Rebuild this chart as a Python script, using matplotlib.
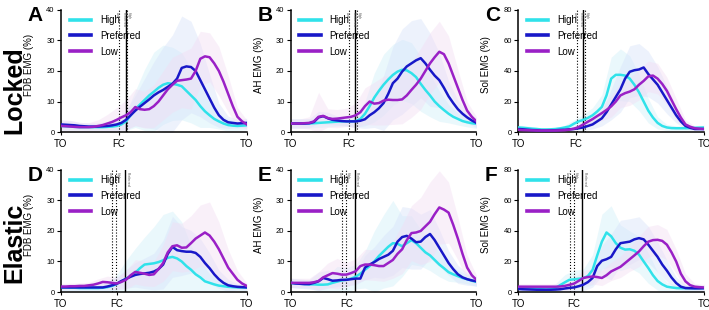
import numpy as np
import matplotlib
matplotlib.use("Agg")
import matplotlib.pyplot as plt

plt.rcParams["font.family"] = ["Liberation Sans", "DejaVu Sans"]

# % of stride, TO -> TO
x_pct = np.arange(0, 100.1, 2.5)
x_band = np.arange(0, 100.1, 5)

conditions = ["High", "Preferred", "Low"]
colori = ["#30e2ea", "#1818c8", "#9a20c6"]
colori_banda = ["#cfeff8", "#d6e2fa", "#f3dcf3"]

# Locked - mean EMG
a_high = [2.0, 1.9, 1.8, 1.7, 1.6, 1.6, 1.6, 1.6, 1.6, 1.6,
          1.7, 1.8, 2.0, 2.5, 3.5, 5.5, 7.5, 9.0, 10.5, 12.0,
          13.2, 14.5, 15.5, 16.0, 15.8, 15.5, 15.0, 13.5, 12.0, 10.5,
          8.5, 6.8, 5.5, 4.3, 3.5, 2.8, 2.3, 2.1, 2.0, 2.1, 2.2]
a_pref = [2.5, 2.4, 2.3, 2.2, 2.0, 1.9, 1.8, 1.8, 1.8, 1.9,
          2.0, 2.2, 2.5, 3.0, 4.0, 5.5, 7.0, 8.3, 9.5, 10.7,
          12.0, 13.0, 13.8, 14.8, 15.8, 17.5, 21.0, 21.5, 21.3, 20.0,
          17.0, 14.0, 11.0, 8.0, 5.5, 4.0, 3.2, 3.0, 2.8, 2.9, 3.0]
a_low = [2.0, 1.9, 1.8, 1.7, 1.6, 1.6, 1.6, 1.7, 2.0, 2.3,
         2.8, 3.3, 4.0, 4.8, 5.5, 6.5, 8.2, 7.5, 7.3, 7.5,
         8.5, 10.0, 12.0, 14.0, 15.5, 16.8, 17.0, 17.2, 17.5, 20.0,
         24.0, 24.8, 24.5, 22.5, 20.0, 16.5, 12.5, 8.5, 5.0, 3.5, 2.5]

b_high = [2.8, 2.8, 2.8, 2.8, 2.8, 2.9, 3.0, 3.1, 3.2, 3.3,
          3.4, 3.5, 3.5, 3.5, 3.6, 4.3, 6.0, 8.5, 11.3, 13.5,
          15.5, 17.2, 18.7, 19.8, 20.4, 20.2, 19.3, 18.0, 15.8, 13.8,
          12.0, 10.0, 8.5, 7.2, 6.0, 5.0, 4.3, 3.6, 3.2, 2.9, 2.7]
b_pref = [2.8, 2.8, 2.8, 2.8, 2.9, 3.3, 4.8, 5.2, 4.5, 4.0,
          3.8, 3.6, 3.5, 3.5, 3.5, 3.7, 4.2, 5.5, 6.5, 7.8,
          9.5, 12.5, 16.0, 17.5, 19.8, 21.5, 22.5, 23.5, 24.2, 22.5,
          20.4, 18.5, 17.0, 14.5, 11.7, 9.5, 7.5, 6.0, 4.8, 3.8, 3.0]
b_low = [2.8, 2.8, 2.8, 2.9, 3.0, 3.5, 5.0, 5.3, 4.6, 4.3,
         4.4, 4.6, 4.8, 5.0, 5.5, 6.5, 8.5, 10.0, 9.3, 9.5,
         10.3, 10.6, 10.5, 10.5, 10.7, 12.0, 13.8, 15.5, 17.5, 20.0,
         22.5, 24.5, 26.3, 25.5, 22.5, 18.5, 14.5, 10.5, 7.0, 5.0, 3.5]

c_high = [3.0, 2.8, 2.5, 2.2, 2.0, 1.7, 1.7, 1.8, 2.0, 2.4,
          3.0, 3.7, 5.5, 7.0, 8.0, 9.3, 11.0, 13.5, 16.5, 24.0,
          35.0, 37.5, 37.5, 37.0, 35.0, 31.0, 26.0, 20.0, 14.0, 9.5,
          6.0, 4.0, 3.0, 2.6, 2.5, 2.5, 2.5, 2.6, 2.8, 2.9, 3.0]
c_pref = [2.0, 1.8, 1.5, 1.3, 1.2, 1.0, 1.0, 1.1, 1.2, 1.4,
          1.5, 1.8, 2.0, 2.5, 3.0, 4.0, 5.0, 7.0, 9.0, 13.0,
          18.0, 23.0, 28.0, 35.0, 39.5, 40.5, 41.0, 42.3, 38.0, 34.5,
          31.0, 26.0, 21.0, 16.0, 11.0, 7.0, 4.0, 2.8, 2.0, 2.0, 2.0]
c_low = [1.5, 1.3, 1.2, 1.1, 1.0, 1.0, 1.0, 1.0, 1.0, 1.1,
         1.2, 1.6, 2.2, 3.3, 5.0, 6.8, 8.5, 10.5, 12.4, 14.5,
         16.8, 20.0, 24.0, 25.5, 26.5, 28.0, 31.0, 33.5, 36.5, 37.0,
         35.0, 31.5, 27.0, 21.0, 15.0, 9.5, 5.0, 3.5, 2.5, 2.2, 2.0]

# Elastic - mean EMG
d_high = [1.5, 1.5, 1.4, 1.4, 1.3, 1.3, 1.3, 1.3, 1.3, 1.4,
          1.6, 2.0, 2.6, 3.5, 4.3, 5.3, 6.3, 7.8, 9.0, 9.2,
          9.4, 9.8, 10.4, 11.2, 11.5, 11.0, 10.0, 8.5, 7.3, 5.8,
          4.8, 3.5, 3.0, 2.5, 2.1, 1.9, 1.7, 1.6, 1.5, 1.5, 1.5]
d_pref = [1.5, 1.5, 1.5, 1.5, 1.5, 1.5, 1.5, 1.5, 1.5, 1.5,
          1.8, 2.2, 2.7, 3.6, 4.3, 5.0, 5.6, 5.9, 6.1, 6.3,
          6.7, 7.5, 9.0, 12.5, 14.8, 13.7, 13.4, 13.2, 13.2, 12.8,
          11.5, 9.5, 7.8, 5.8, 4.2, 3.0, 2.2, 1.9, 1.7, 1.6, 1.5]
d_low = [1.8, 1.8, 1.9, 1.9, 2.0, 2.0, 2.2, 2.4, 2.8, 3.3,
         3.2, 3.0, 2.8, 3.3, 4.0, 5.5, 6.6, 6.3, 6.0, 5.6,
         5.8, 7.5, 9.5, 13.0, 15.0, 15.3, 14.5, 14.6, 16.0, 17.5,
         18.5, 19.5, 18.5, 16.5, 14.0, 11.0, 8.0, 6.0, 4.0, 2.8, 2.0]

e_high = [3.0, 2.8, 2.7, 2.6, 2.5, 2.5, 2.4, 2.4, 2.5, 3.0,
          3.4, 3.8, 4.0, 4.4, 5.0, 6.0, 7.3, 8.5, 10.0, 11.8,
          13.3, 14.8, 16.0, 15.8, 15.0, 16.0, 17.0, 16.0, 14.5, 13.0,
          12.0, 10.5, 9.0, 7.8, 6.5, 5.8, 5.2, 4.6, 4.2, 3.7, 3.3]
e_pref = [3.0, 2.8, 2.7, 2.6, 2.6, 3.0, 3.5, 4.6, 4.2, 3.7,
          3.8, 4.0, 4.0, 4.2, 4.4, 4.4, 8.0, 9.0, 9.8, 10.8,
          11.5, 12.2, 13.5, 16.5, 18.0, 18.4, 17.5, 16.3, 16.5, 18.0,
          19.0, 17.0, 14.5, 12.0, 9.5, 7.5, 5.8, 4.8, 4.2, 3.8, 3.5]
e_low = [3.0, 3.0, 3.0, 3.0, 3.0, 3.2, 3.6, 4.8, 5.5, 6.2,
         6.0, 5.7, 5.7, 6.2, 6.8, 8.5, 9.0, 9.0, 8.8, 8.5,
         8.5, 9.5, 10.5, 12.5, 14.0, 17.0, 19.3, 19.5, 20.0, 21.5,
         23.0, 25.5, 27.7, 27.0, 26.0, 22.0, 17.5, 12.5, 8.0, 5.5, 4.0]

f_high = [3.0, 2.8, 2.5, 2.2, 2.0, 1.8, 1.6, 1.8, 2.5, 4.5,
          6.3, 8.0, 8.3, 8.7, 9.0, 10.5, 14.5, 24.0, 33.0, 39.0,
          36.5, 32.0, 29.0, 27.8, 28.0, 27.0, 24.5, 20.0, 15.7, 11.0,
          7.2, 5.0, 3.5, 3.0, 2.6, 2.5, 2.5, 2.5, 2.5, 2.5, 2.5]
f_pref = [2.0, 1.8, 1.7, 1.6, 1.5, 1.5, 1.5, 1.5, 1.6, 1.8,
          2.3, 2.7, 3.0, 3.8, 4.8, 6.5, 9.2, 17.0, 20.5, 21.5,
          23.0, 28.0, 32.0, 32.5, 33.0, 34.5, 35.3, 34.5, 31.0, 27.0,
          23.0, 18.0, 14.0, 9.5, 5.9, 3.5, 2.6, 2.5, 2.4, 2.4, 2.5]
f_low = [3.5, 3.5, 3.5, 3.5, 3.5, 3.5, 3.5, 3.5, 3.5, 3.6,
         4.0, 4.7, 5.5, 7.3, 9.2, 9.8, 10.2, 9.8, 9.2, 11.0,
         13.5, 15.0, 16.5, 19.0, 21.5, 24.0, 26.6, 30.0, 33.0, 34.0,
         34.2, 33.5, 31.0, 26.0, 20.0, 12.0, 7.0, 4.5, 3.5, 3.2, 3.0]

# standard deviations (every 5%)
a_high_sd = [1.5, 1.5, 1.2, 1.2, 1.2, 1.5, 2, 3, 6, 10, 13, 13, 12, 11, 9, 7, 4, 2.5, 2, 1.5, 1.5]
a_pref_sd = [1.5, 1.5, 1.2, 1.2, 1.2, 1.5, 2, 3, 5, 8, 11, 14, 16, 17, 15, 12, 8, 4, 2, 1.5, 1.5]
a_low_sd = [2, 2, 1.5, 1.5, 2, 3, 4, 5, 6, 6, 7, 8, 9, 9, 10, 9, 8, 8, 6, 3, 1.5]
b_high_sd = [1.5, 1.5, 1.5, 1.5, 1.5, 1.5, 1.5, 2, 4, 8, 10, 10, 10, 10, 9, 7, 5, 3, 2, 1.5, 1.5]
b_pref_sd = [1.5, 1.5, 1.5, 2, 2, 1.5, 1.5, 2, 3, 5, 9, 12, 14, 14, 13, 12, 9, 5, 3, 2, 1.5]
b_low_sd = [1.5, 1.5, 2, 8, 3, 3, 3, 4, 6, 7, 8, 8, 8, 9, 10, 10, 10, 9, 6, 3, 1.5]
c_high_sd = [1.5, 1.5, 1, 1, 1, 1.5, 2.5, 3.5, 5, 8, 14, 17, 15, 12, 8, 4, 2, 1.5, 1.5, 1.5, 1.5]
c_pref_sd = [1, 1, 1, 1, 1, 1, 1.5, 2, 3, 5, 10, 15, 17, 17, 15, 12, 9, 5, 2, 1, 1]
c_low_sd = [1, 1, 1, 1, 1, 1, 1.5, 2, 3, 5, 7, 8, 9, 10, 10, 10, 9, 7, 3, 1.5, 1]
d_high_sd = [1, 1, 1, 1, 1, 1.5, 3, 6, 8, 9, 12, 15, 15, 13, 8, 5, 3, 2, 1.5, 1, 1]
d_pref_sd = [1, 1, 1, 1, 1, 1.5, 2, 3, 4, 5, 6, 8, 10, 8, 7, 6, 5, 3, 2, 1, 1]
d_low_sd = [1, 1, 1, 1, 1.5, 2, 2, 3, 4, 4, 4, 6, 8, 8, 9, 10, 11, 9, 6, 3, 1]
e_high_sd = [1.5, 1.5, 1.5, 2, 3, 5, 4, 4, 6, 10, 12, 14, 10, 8, 6, 5, 4, 3, 2, 1.5, 1.5]
e_pref_sd = [1.5, 1.5, 1.5, 3, 3, 2, 2, 2, 4, 5, 7, 8, 10, 10, 9, 8, 6, 4, 3, 2, 1.5]
e_low_sd = [1.5, 1.5, 1.5, 3, 4, 5, 4, 4, 5, 5, 5, 6, 8, 9, 11, 13, 12, 10, 7, 4, 1.5]
f_high_sd = [2, 2, 2, 2, 3, 5, 6, 6, 10, 18, 20, 15, 12, 12, 10, 6, 3, 2, 2, 2, 2]
f_pref_sd = [2, 2, 2, 2, 2, 2, 3, 4, 6, 10, 15, 15, 15, 14, 12, 10, 7, 4, 2, 2, 2]
f_low_sd = [2, 2, 2, 2, 2, 3, 4, 5, 5, 5, 6, 7, 8, 10, 10, 10, 10, 8, 5, 2, 2]

# foot contact (% stride) per condition: High, Preferred, Low
fc_locked = [35.7, 34.8, 31.5]
fc_elastic = [29.8, 34.4, 27.6]
fc_tick = [31, 30]

pannelli = [
    ("A", "FDB EMG (%)", 40, [a_high, a_pref, a_low], [a_high_sd, a_pref_sd, a_low_sd], 0),
    ("B", "AH EMG (%)", 40, [b_high, b_pref, b_low], [b_high_sd, b_pref_sd, b_low_sd], 0),
    ("C", "Sol EMG (%)", 80, [c_high, c_pref, c_low], [c_high_sd, c_pref_sd, c_low_sd], 0),
    ("D", "FDB EMG (%)", 40, [d_high, d_pref, d_low], [d_high_sd, d_pref_sd, d_low_sd], 1),
    ("E", "AH EMG (%)", 40, [e_high, e_pref, e_low], [e_high_sd, e_pref_sd, e_low_sd], 1),
    ("F", "Sol EMG (%)", 80, [f_high, f_pref, f_low], [f_high_sd, f_pref_sd, f_low_sd], 1),
]

fig = plt.figure(figsize=(7.09, 3.10), dpi=100)
lefts = [0.086, 0.410, 0.731]
bottoms = [0.574, 0.058]

for i, (lettera, ylab, ymax, medie, sds, riga) in enumerate(pannelli):
    ax = fig.add_axes([lefts[i % 3], bottoms[riga], 0.262, 0.394])
    for m, s, col, colb in zip(medie, sds, colori, colori_banda):
        m = np.array(m)
        s = np.array(s)
        mb = m[::2]
        ax.fill_between(x_band, np.clip(mb - s, 0, None), np.minimum(mb + s, ymax),
                        color=colb, alpha=0.42, linewidth=0, zorder=1)
    for m, col, nome in zip(medie, colori, conditions):
        ax.plot(x_pct, m, color=col, lw=1.8, label=nome, zorder=3)

    fc = fc_locked if riga == 0 else fc_elastic
    stili = [":", "-", ":"]
    for v, st, nome in zip(fc, stili, conditions):
        ax.axvline(v, color="black", ls=st, lw=1.0 if st == "-" else 0.8, zorder=2)
    # tiny labels next to the contact lines
    off = [1.0, -1.0, -1.3] if riga == 0 else [1.0, 1.3, -1.3]
    for v, o, nome in zip(fc, off, conditions):
        ax.text(v + o, ymax * 0.985, nome, rotation=270, fontsize=2.5, color="#555555",
                ha="center", va="top")

    ax.set_xlim(0, 100)
    ax.set_ylim(0, ymax)
    ax.set_xticks([0, fc_tick[riga], 100])
    ax.set_xticklabels(["TO", "FC", "TO"], fontsize=7)
    ax.set_yticks(np.linspace(0, ymax, 5))
    ax.tick_params(axis="y", labelsize=5.5, length=3, width=0.8, pad=1.5)
    ax.tick_params(axis="x", length=2, width=0.8, pad=3)
    ax.spines["top"].set_visible(False)
    ax.spines["right"].set_visible(False)
    ax.spines["left"].set_linewidth(1.1)
    ax.spines["bottom"].set_linewidth(1.1)
    ax.set_ylabel(ylab, fontsize=7)
    ax.yaxis.set_label_coords(-0.145, 0.55)
    ax.text(-0.18, 1.035, lettera, transform=ax.transAxes, fontsize=15,
            fontweight="bold", va="top", ha="left")
    leg = ax.legend(loc="upper left", bbox_to_anchor=(0.0, 1.03), frameon=False,
                    fontsize=7, handlelength=2.2, labelspacing=0.6, handletextpad=0.9)
    for h in leg.get_lines():
        h.set_linewidth(2.6)

fig.text(0.02, 0.71, "Locked", rotation=90, fontsize=18, fontweight="bold",
         ha="center", va="center")
fig.text(0.02, 0.216, "Elastic", rotation=90, fontsize=18, fontweight="bold",
         ha="center", va="center")

plt.savefig("out.png", dpi=100)
